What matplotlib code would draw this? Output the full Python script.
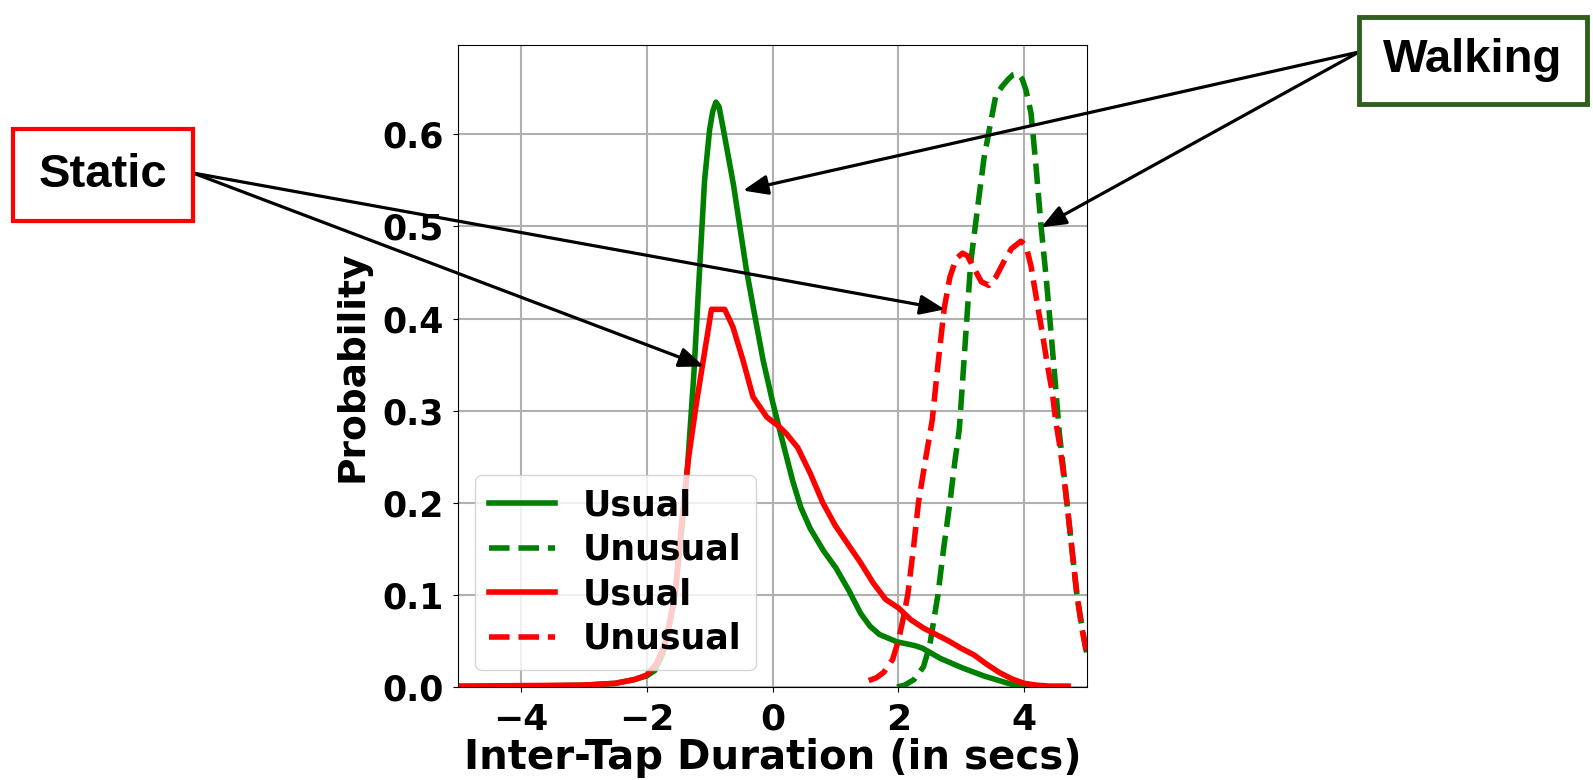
import numpy as np
import matplotlib.pyplot as plt
from matplotlib.patches import Rectangle

# Walking, usual taps (green solid)
walk_usual_x = [-5.0, -4.0, -3.0, -2.5, -2.2, -2.0, -1.87, -1.75, -1.66, -1.55, -1.45,
                -1.35, -1.25, -1.17, -1.08, -1.0, -0.95, -0.90, -0.85, -0.78, -0.70,
                -0.62, -0.52, -0.42, -0.30, -0.15, 0.0, 0.14, 0.32, 0.45, 0.6, 0.81,
                1.01, 1.22, 1.4, 1.55, 1.7, 1.98, 2.26, 2.39, 2.67, 3.01, 3.36, 3.7, 3.9, 4.2]
walk_usual_y = [0.0005, 0.0008, 0.002, 0.004, 0.008, 0.012, 0.018, 0.035, 0.06, 0.10, 0.165,
                0.24, 0.34, 0.44, 0.55, 0.605, 0.625, 0.635, 0.63, 0.605, 0.575,
                0.545, 0.50, 0.455, 0.41, 0.355, 0.31, 0.272, 0.224, 0.195, 0.172, 0.148,
                0.129, 0.104, 0.08, 0.066, 0.057, 0.049, 0.045, 0.042, 0.031, 0.021, 0.012, 0.005, 0.001, 0.0]

# Walking, unusual taps (green dashed)
walk_unusual_x = [1.98, 2.1, 2.25, 2.4, 2.5, 2.57, 2.63, 2.72, 2.82, 2.9, 2.97, 3.06, 3.15,
                  3.26, 3.36, 3.46, 3.55, 3.65, 3.75, 3.83, 3.9, 3.97, 4.03, 4.11, 4.19,
                  4.27, 4.35, 4.42, 4.49, 4.56, 4.62, 4.68, 4.76, 4.84, 4.92, 5.0]
walk_unusual_y = [0.0, 0.002, 0.008, 0.022, 0.045, 0.075, 0.1, 0.15, 0.2, 0.245, 0.28, 0.37, 0.46,
                  0.52, 0.573, 0.61, 0.642, 0.652, 0.66, 0.665, 0.666, 0.66, 0.648, 0.623, 0.565,
                  0.5, 0.445, 0.391, 0.335, 0.276, 0.24, 0.2, 0.15, 0.1, 0.065, 0.035]

# Static, usual taps (red solid)
static_usual_x = [-5.0, -4.0, -3.0, -2.5, -2.2, -2.0, -1.85, -1.72, -1.62, -1.55, -1.45, -1.34,
                  -1.21, -1.10, -0.97, -0.76, -0.63, -0.47, -0.31, -0.09, 0.1, 0.22, 0.4,
                  0.6, 0.8, 1.0, 1.2, 1.4, 1.6, 1.8, 2.0, 2.2, 2.4, 2.6, 2.8, 3.0, 3.2,
                  3.4, 3.6, 3.8, 4.0, 4.2, 4.4, 4.7]
static_usual_y = [0.001, 0.0015, 0.002, 0.004, 0.008, 0.013, 0.025, 0.045, 0.075, 0.10, 0.174, 0.246,
                  0.308, 0.355, 0.41, 0.41, 0.391, 0.355, 0.315, 0.293, 0.283, 0.275, 0.26,
                  0.232, 0.2, 0.175, 0.155, 0.135, 0.113, 0.095, 0.086, 0.073, 0.064, 0.057, 0.05, 0.042, 0.035,
                  0.025, 0.016, 0.009, 0.004, 0.002, 0.001, 0.001]

# Static, unusual taps (red dashed)
static_unusual_x = [1.53, 1.65, 1.77, 1.91, 2.0, 2.08, 2.15, 2.24, 2.32, 2.44, 2.54, 2.63, 2.73,
                    2.82, 2.92, 3.02, 3.1, 3.2, 3.32, 3.44, 3.55, 3.68, 3.8, 3.95, 4.03, 4.11,
                    4.2, 4.29, 4.37, 4.45, 4.5, 4.56, 4.62, 4.68, 4.76, 4.84, 4.92, 5.0]
static_unusual_y = [0.007, 0.01, 0.016, 0.03, 0.05, 0.075, 0.1, 0.15, 0.2, 0.25, 0.29, 0.35, 0.411,
                    0.445, 0.465, 0.471, 0.468, 0.455, 0.44, 0.436, 0.445, 0.462, 0.476, 0.484, 0.479, 0.457,
                    0.42, 0.384, 0.35, 0.319, 0.29, 0.265, 0.235, 0.2, 0.15, 0.1, 0.063, 0.035]

legend_labels = ['Usual', 'Unusual', 'Usual', 'Unusual']
x_ticks = [-4, -2, 0, 2, 4]
y_ticks = [0.0, 0.1, 0.2, 0.3, 0.4, 0.5, 0.6]

W, H = 1593, 780
fig = plt.figure(figsize=(W / 100, H / 100), dpi=100)
ax = fig.add_axes([458 / W, 1 - 687 / H, 629 / W, 642 / H])

ax.plot(walk_usual_x, walk_usual_y, color='green', lw=4, label=legend_labels[0])
ax.plot(walk_unusual_x, walk_unusual_y, color='green', lw=4, ls='--', label=legend_labels[1])
ax.plot(static_usual_x, static_usual_y, color='red', lw=4, label=legend_labels[2])
ax.plot(static_unusual_x, static_unusual_y, color='red', lw=4, ls='--', label=legend_labels[3])

ax.set_xlim(-5, 5)
ax.set_ylim(0, 0.697)
ax.set_xticks(x_ticks)
ax.set_yticks(y_ticks)
ax.grid(True, color='#b0b0b0', lw=1.5)
ax.tick_params(labelsize=25)
ax.tick_params(axis='x', pad=8, labelsize=26)
ax.tick_params(axis='y', pad=7)
for lbl in ax.get_xticklabels() + ax.get_yticklabels():
    lbl.set_fontweight('bold')
ax.set_xlabel('Inter-Tap Duration (in secs)', fontsize=29, fontweight='bold', labelpad=1)
ax.set_ylabel('Probability', fontsize=27, fontweight='bold', labelpad=8)

ax.legend(loc='lower left', prop={'weight': 'bold', 'size': 25},
          labelspacing=0.3, handlelength=1.9)

# callout boxes
box_font = dict(family='Liberation Sans', weight='bold', size=34)
fig.add_artist(Rectangle((13 / W, 1 - 221 / H), 180 / W, 92 / H, transform=fig.transFigure,
                         facecolor='white', edgecolor='red', lw=3, zorder=5))
fig.text(103 / W, 1 - 175 / H, 'Static', ha='center', va='center', fontdict=box_font, zorder=6)
fig.add_artist(Rectangle((1359 / W, 1 - 104 / H), 228 / W, 87 / H, transform=fig.transFigure,
                         facecolor='white', edgecolor='#2f5e1e', lw=3.5, zorder=5))
fig.text(1473 / W, 1 - 60 / H, 'Walking', ha='center', va='center', fontdict=box_font, zorder=6)

arrow = dict(arrowstyle='-|>,head_length=0.5,head_width=0.2', lw=2.3, color='black',
             mutation_scale=30, shrinkA=0, shrinkB=0)
# Walking -> green curves
for tip in [(-0.47, 0.539), (4.27, 0.499)]:
    ax.annotate('', xy=tip, xycoords='data', xytext=(1359, H - 52), textcoords='figure pixels',
                arrowprops=arrow, annotation_clip=False)
# Static -> red curves
for tip in [(2.74, 0.41), (-1.09, 0.348)]:
    ax.annotate('', xy=tip, xycoords='data', xytext=(193, H - 173), textcoords='figure pixels',
                arrowprops=arrow, annotation_clip=False)

fig.savefig('out.png', dpi=100)
